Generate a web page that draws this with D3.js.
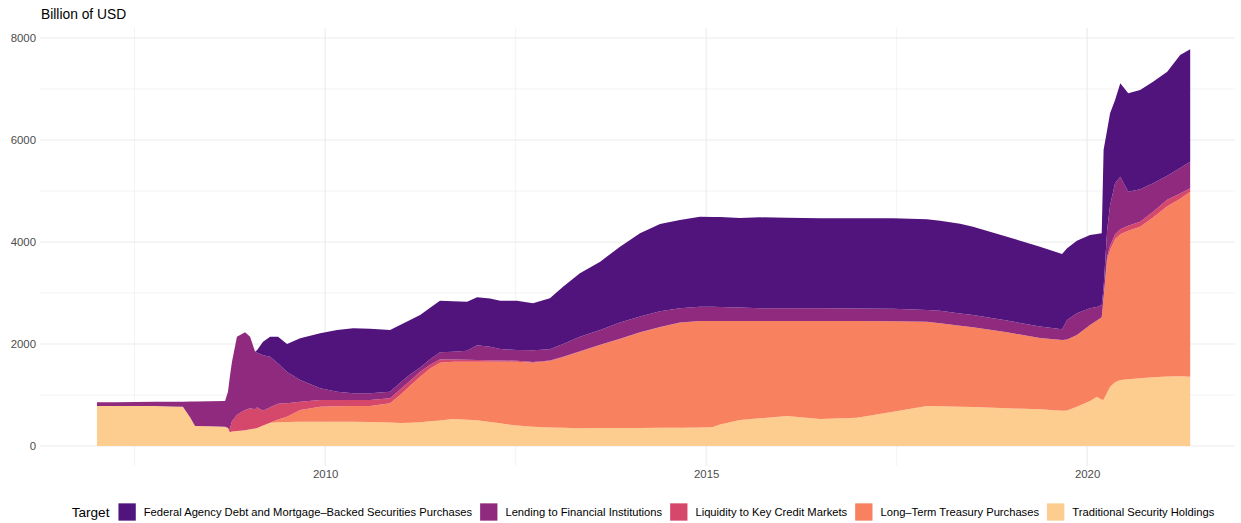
<!DOCTYPE html>
<html>
<head>
<meta charset="utf-8">
<script src="https://cdn.jsdelivr.net/npm/d3@7"></script>
<style>
  html, body { margin: 0; padding: 0; background: #ffffff; }
  svg { display: block; }
  text { font-family: "Liberation Sans", Arial, Helvetica, sans-serif; }
</style>
</head>
<body>
<svg id="chart" width="1241" height="523"></svg>
<script>
// ---------------- DATA (billion USD) ----------------
const dates = [
  "2007-01-03","2007-04-01","2007-07-04","2007-10-08","2007-12-19","2008-02-19","2008-03-25","2008-04-17",
  "2008-06-28","2008-09-08","2008-09-22","2008-10-01","2008-10-11","2008-11-04","2008-11-19","2008-12-13",
  "2009-01-06","2009-01-30","2009-02-09","2009-03-09","2009-04-12","2009-05-20","2009-07-02","2009-09-03",
  "2009-12-08","2010-02-27","2010-05-15","2010-08-04","2010-11-08","2010-12-26","2011-02-12","2011-04-01",
  "2011-05-19","2011-07-05","2011-09-06","2011-11-12","2011-12-30","2012-03-01","2012-04-19","2012-07-08",
  "2012-09-23","2012-12-13","2013-02-14","2013-05-06","2013-08-11","2013-11-14","2014-02-18","2014-05-25",
  "2014-08-28","2014-12-02","2015-02-03","2015-03-08","2015-06-12","2015-09-16","2016-01-23","2016-06-30",
  "2016-12-24","2017-06-15","2017-11-24","2018-01-26","2018-05-02","2018-07-03","2018-12-13","2019-05-20",
  "2019-09-03","2019-09-27","2019-11-13","2020-01-15","2020-02-17","2020-03-11","2020-03-20","2020-04-06",
  "2020-04-20","2020-05-14","2020-06-08","2020-07-16","2020-09-11","2020-11-12","2021-01-19","2021-03-22",
  "2021-05-09"
];
const traditional = [
  784,785,786,782,776,771,560,392, 385,376,347,270,285,294,300,310,
  330,345,355,400,457,464,470,477, 477,477,477,470,460,450,455,465,
  485,500,529,515,505,470,444,400, 379,365,360,350,355,355,355,360,
  360,365,375,420,510,542,588,529, 556,673,784,780,771,765,739,719,
  693,695,770,880,967,905,905,1050, 1163,1250,1294,1310,1327,1350,1365,1370,
  1359
];
const longTerm = [
  0,0,0,0,0,0,0,0, 0,0,0,0,0,0,0,0,
  0,0,0,0,0,56,105,229, 294,303,307,314,377,550,725,894,
  1035,1134,1121,1139,1149,1184,1210,1254, 1255,1300,1380,1500,1625,1745,1870,1970,
  2058,2086,2076,2031,1941,1909,1863,1922, 1895,1772,1654,1625,1589,1565,1491,1401,
  1385,1395,1406,1493,1493,1618,2000,2597, 2677,2810,2856,2910,2973,3130,3335,3480,
  3628
];
const liquidity = [
  0,0,0,0,0,0,0,0, 0,0,13,60,200,314,350,396,
  410,374,405,293,303,310,262,164, 131,122,118,118,98,110,100,95,
  75,60,45,35,30,25,22,18, 15,12,10,8,6,5,4,3,
  2,1,0,0,0,0,0,0, 0,0,0,0,0,0,0,0,
  0,0,0,0,0,0,5,65, 80,90,98,98,98,115,130,100,
  65
];
const lending = [
  73,75,78,85,92,99,312,483, 493,504,705,1029,1160,1535,1526,1523,
  1403,1131,1070,1087,992,790,613,424, 229,163,131,131,130,130,120,86,
  105,143,155,180,290,269,224,210, 230,219,250,285,290,315,311,307,
  280,280,281,274,264,249,249,249, 247,245,229,248,240,240,229,225,
  210,381,425,327,265,242,200,523, 800,1000,1033,669,635,555,470,500,
  523
];
const agencyMBS = [
  0,0,0,0,0,0,0,0, 0,0,0,0,0,0,0,0,
  0,0,52,265,391,523,550,817, 1078,1210,1274,1267,1210,1133,1070,1029,
  1010,1013,990,961,941,942,950,968, 918,999,1124,1243,1338,1488,1630,1713,
  1731,1765,1758,1765,1755,1784,1775,1764, 1766,1774,1778,1765,1760,1731,1645,1563,
  1477,1405,1425,1437,1430,1405,2700,1961, 1803,1634,1830,1928,1947,1993,2039,2217,
  2203
];
const seriesNames = [
  "Traditional Security Holdings",
  "Long\u2013Term Treasury Purchases",
  "Liquidity to Key Credit Markets",
  "Lending to Financial Institutions",
  "Federal Agency Debt and Mortgage\u2013Backed Securities Purchases"
];
const seriesColors = ["#FDCD90", "#F8825F", "#D5476B", "#8F2A7E", "#51137C"];
const legendOrder = [4, 3, 2, 1, 0];
const yTicks = [0, 2000, 4000, 6000, 8000];
const yMinor = [1000, 3000, 5000, 7000];
const xTicks = ["2010-01-01", "2015-01-01", "2020-01-01"];
const xMinor = ["2007-07-02", "2012-07-02", "2017-07-02"];
const xTickLabels = ["2010", "2015", "2020"];
const yTitle = "Billion of USD";
const legendTitle = "Target";

// ---------------- BUILD ----------------
const parse = d3.timeParse("%Y-%m-%d");
const valueArrays = [traditional, longTerm, liquidity, lending, agencyMBS];
const rows = dates.map((d, i) => {
  const r = { date: parse(d) };
  seriesNames.forEach((k, j) => { r[k] = valueArrays[j][i]; });
  return r;
});

const svg = d3.select("#chart");
const panel = { left: 40, right: 1235, top: 28, bottom: 466 };

const x = d3.scaleTime()
  .domain([parse("2006-04-05"), parse("2021-12-05")])
  .range([40, 1234]);
const y = d3.scaleLinear().domain([0, 8000]).range([446, 38]);

// grid
const grid = svg.append("g");
grid.selectAll(".ymin").data(yMinor).enter().append("line")
  .attr("x1", panel.left).attr("x2", panel.right)
  .attr("y1", d => y(d)).attr("y2", d => y(d))
  .attr("stroke", "#EBEBEB").attr("stroke-width", 0.6);
grid.selectAll(".xmin").data(xMinor.map(parse)).enter().append("line")
  .attr("y1", panel.top).attr("y2", panel.bottom)
  .attr("x1", d => x(d)).attr("x2", d => x(d))
  .attr("stroke", "#EBEBEB").attr("stroke-width", 0.6);
grid.selectAll(".ymaj").data(yTicks).enter().append("line")
  .attr("x1", panel.left).attr("x2", panel.right)
  .attr("y1", d => y(d)).attr("y2", d => y(d))
  .attr("stroke", "#EBEBEB").attr("stroke-width", 1.1);
grid.selectAll(".xmaj").data(xTicks.map(parse)).enter().append("line")
  .attr("y1", panel.top).attr("y2", panel.bottom)
  .attr("x1", d => x(d)).attr("x2", d => x(d))
  .attr("stroke", "#EBEBEB").attr("stroke-width", 1.1);

// stacked areas
const stack = d3.stack().keys(seriesNames);
const layers = stack(rows);
const area = d3.area()
  .x(d => x(d.data.date))
  .y0(d => y(d[0]))
  .y1(d => y(d[1]));
svg.append("g").selectAll("path").data(layers).enter().append("path")
  .attr("d", area)
  .attr("fill", (d, i) => seriesColors[i]);

// axes (text only, as in theme_minimal)
const yAxis = d3.axisLeft(y).tickValues(yTicks).tickSize(0).tickPadding(4).tickFormat(d3.format("d"));
const ya = svg.append("g").attr("transform", `translate(${panel.left},0)`).call(yAxis);
ya.select(".domain").remove();
ya.selectAll("text").attr("font-size", "11.4px").attr("fill", "#4D4D4D")
  .style("font-family", '"Liberation Sans", Arial, sans-serif');

const xAxis = d3.axisBottom(x).tickValues(xTicks.map(parse)).tickSize(0).tickPadding(4)
  .tickFormat((d, i) => xTickLabels[i]);
const xa = svg.append("g").attr("transform", `translate(0,${panel.bottom})`).call(xAxis);
xa.select(".domain").remove();
xa.selectAll("text").attr("font-size", "11.4px").attr("fill", "#4D4D4D")
  .style("font-family", '"Liberation Sans", Arial, sans-serif');

// y title
svg.append("text").attr("x", 41).attr("y", 19)
  .attr("font-size", "13.8px").attr("fill", "#000").text(yTitle);

// legend
const lg = svg.append("g");
const keyS = 17.3, cy = 512;
const tTitle = lg.append("text").attr("y", cy).attr("dy", "0.35em")
  .attr("font-size", "13.6px").attr("fill", "#000").text(legendTitle);
let cur = tTitle.node().getComputedTextLength() + 9;
legendOrder.forEach(i => {
  lg.append("rect").attr("x", cur).attr("y", cy - keyS / 2)
    .attr("width", keyS).attr("height", keyS).attr("fill", seriesColors[i]);
  cur += keyS + 8;
  const t = lg.append("text").attr("x", cur).attr("y", cy).attr("dy", "0.35em")
    .attr("font-size", "11.2px").attr("fill", "#000").text(seriesNames[i]);
  cur += t.node().getComputedTextLength() + 8;
});
const total = cur - 8;
lg.attr("transform", `translate(${643 - total / 2},0)`);
</script>
</body>
</html>
